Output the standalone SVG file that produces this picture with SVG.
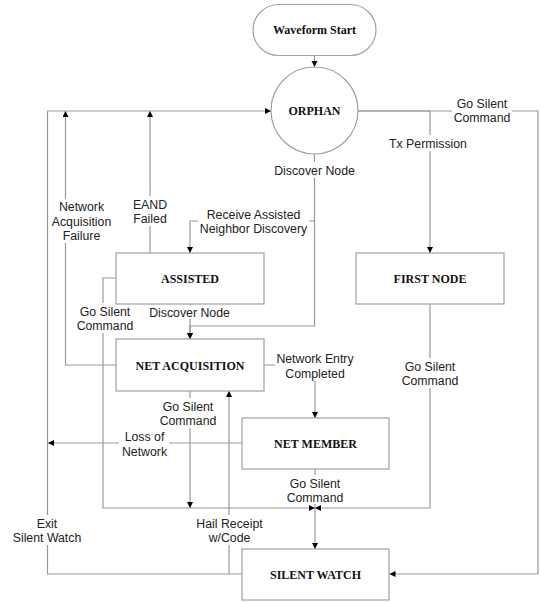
<svg xmlns="http://www.w3.org/2000/svg" width="541" height="602" viewBox="0 0 541 602">
  <style>
    .node { fill: #ffffff; stroke: #a0a0a0; stroke-width: 1.2; }
    .ntxt { font-family: "Liberation Serif", "Times New Roman", serif; font-weight: bold; font-size: 12px; fill: #111; text-anchor: middle; }
    .conn { fill: none; stroke: #999999; stroke-width: 1.2; }
    .lbg { fill: #ffffff; stroke: none; }
    .ltxt { font-family: "Liberation Sans", Arial, sans-serif; font-size: 12.3px; fill: #222; text-anchor: middle; }
  </style>
  <defs>
    <marker id="arrow" markerUnits="userSpaceOnUse" markerWidth="7" markerHeight="7" refX="6" refY="3" orient="auto">
      <path d="M0,0 L6,3 L0,6 z" fill="#000"/>
    </marker>
  </defs>

  <rect width="541" height="602" fill="#ffffff"/>

  <!-- connectors -->
  <g id="connectors" class="conn">
    <path d="M314.5,55 V67" marker-end="url(#arrow)"/>
    <path d="M358,111 H430 V253" marker-end="url(#arrow)"/>
    <path d="M358,111 H538 V574 H389.5" marker-end="url(#arrow)"/>
    <path d="M314.5,154 V326 H190 V339" marker-end="url(#arrow)"/>
    <path d="M314.5,221 H190 V253" marker-end="url(#arrow)"/>
    <path d="M190,304 V339" marker-end="url(#arrow)"/>
    <path d="M150,253 V111" marker-end="url(#arrow)"/>
    <path d="M116,365 H65.5 V111" marker-end="url(#arrow)"/>
    <path d="M116,278 H103 V508 H315" marker-end="url(#arrow)"/>
    <path d="M190,391 V508" marker-end="url(#arrow)"/>
    <path d="M264,365 H315 V418" marker-end="url(#arrow)"/>
    <path d="M242,443 H48" marker-end="url(#arrow)"/>
    <path d="M315,469 V549" marker-end="url(#arrow)"/>
    <path d="M430,304 V508 H315" marker-end="url(#arrow)"/>
    <path d="M242,574 H47.5 V111 H271" marker-end="url(#arrow)"/>
    <path d="M229,574 V391" marker-end="url(#arrow)"/>
  </g>

  <!-- connector labels (white backing breaks the lines behind them) -->
  <g id="labels">
    <rect class="lbg" x="452" y="95" width="60" height="29"/>
    <text class="ltxt" x="482" y="107.5">Go Silent</text>
    <text class="ltxt" x="482" y="121.5">Command</text>

    <rect class="lbg" x="392" y="135" width="74" height="16"/>
    <text class="ltxt" x="428" y="147.5">Tx Permission</text>

    <rect class="lbg" x="274" y="162" width="81" height="16"/>
    <text class="ltxt" x="314.5" y="174.5">Discover Node</text>

    <rect class="lbg" x="198" y="206" width="111" height="30"/>
    <text class="ltxt" x="253.5" y="218.5">Receive Assisted</text>
    <text class="ltxt" x="253.5" y="232.5">Neighbor Discovery</text>

    <rect class="lbg" x="51" y="199" width="61" height="44"/>
    <text class="ltxt" x="81.5" y="211">Network</text>
    <text class="ltxt" x="81.5" y="225.5">Acquisition</text>
    <text class="ltxt" x="81.5" y="240">Failure</text>

    <rect class="lbg" x="136" y="196" width="28" height="30"/>
    <text class="ltxt" x="150" y="208.5">EAND</text>
    <text class="ltxt" x="150" y="222.5">Failed</text>

    <rect class="lbg" x="76" y="303" width="58" height="30"/>
    <text class="ltxt" x="105" y="315.5">Go Silent</text>
    <text class="ltxt" x="105" y="330">Command</text>

    <rect class="lbg" x="149" y="305" width="82" height="14"/>
    <text class="ltxt" x="189.5" y="316.5">Discover Node</text>

    <rect class="lbg" x="275" y="350" width="80" height="31"/>
    <text class="ltxt" x="315" y="362.5">Network Entry</text>
    <text class="ltxt" x="315" y="377.5">Completed</text>

    <rect class="lbg" x="400" y="358" width="60" height="30"/>
    <text class="ltxt" x="430" y="370.5">Go Silent</text>
    <text class="ltxt" x="430" y="384.5">Command</text>

    <rect class="lbg" x="158" y="398" width="60" height="30"/>
    <text class="ltxt" x="188" y="410.5">Go Silent</text>
    <text class="ltxt" x="188" y="424.5">Command</text>

    <rect class="lbg" x="119" y="429" width="50" height="30"/>
    <text class="ltxt" x="144.5" y="441">Loss of</text>
    <text class="ltxt" x="144.5" y="455.5">Network</text>

    <rect class="lbg" x="287" y="475" width="56" height="29"/>
    <text class="ltxt" x="315" y="487.5">Go Silent</text>
    <text class="ltxt" x="315" y="502">Command</text>

    <rect class="lbg" x="11" y="515" width="73" height="30"/>
    <text class="ltxt" x="47" y="527.5">Exit</text>
    <text class="ltxt" x="47" y="541.5">Silent Watch</text>

    <rect class="lbg" x="195" y="515" width="69" height="30"/>
    <text class="ltxt" x="229.5" y="527.5">Hail Receipt</text>
    <text class="ltxt" x="229.5" y="541.5">w/Code</text>
  </g>

  <!-- states -->
  <g id="waveform-start">
    <rect class="node" x="253" y="4.5" width="123" height="51" rx="25.5" ry="25.5"/>
    <text class="ntxt" x="314.5" y="34">Waveform Start</text>
  </g>
  <g id="orphan">
    <circle class="node" cx="314.5" cy="110.5" r="43.5"/>
    <text class="ntxt" x="314.5" y="115">ORPHAN</text>
  </g>
  <g id="assisted">
    <rect class="node" x="116" y="253" width="148" height="51"/>
    <text class="ntxt" x="190" y="282.5">ASSISTED</text>
  </g>
  <g id="first-node">
    <rect class="node" x="356" y="253" width="148" height="51"/>
    <text class="ntxt" x="430" y="282.5">FIRST NODE</text>
  </g>
  <g id="net-acquisition">
    <rect class="node" x="116" y="339" width="148" height="52"/>
    <text class="ntxt" x="190" y="369.5">NET ACQUISITION</text>
  </g>
  <g id="net-member">
    <rect class="node" x="242" y="418" width="147" height="51"/>
    <text class="ntxt" x="315.5" y="447.5">NET MEMBER</text>
  </g>
  <g id="silent-watch">
    <rect class="node" x="242" y="549" width="147" height="51"/>
    <text class="ntxt" x="315.5" y="579">SILENT WATCH</text>
  </g>
</svg>
